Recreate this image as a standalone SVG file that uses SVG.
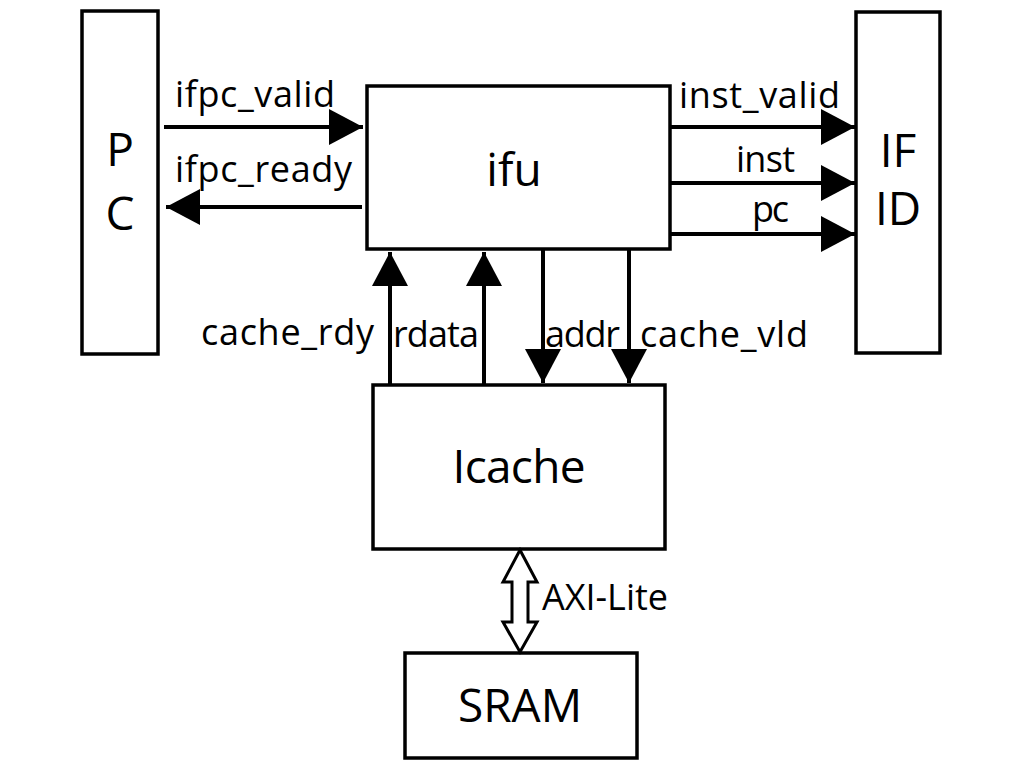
<svg xmlns="http://www.w3.org/2000/svg" width="1016" height="774" viewBox="0 0 1016 774">
<defs>
<marker id="ah" viewBox="0 0 34 36" refX="34" refY="18" markerWidth="34" markerHeight="36" markerUnits="userSpaceOnUse" orient="auto">
<path d="M0,0 L34,18 L0,36 Z" fill="#000"/>
</marker>
<style>
.box{fill:#fff;stroke:#000;stroke-width:3.5}
.c{fill:none;stroke:#000;stroke-width:4;marker-end:url(#ah)}
.s{font-family:"Open Sans","Noto Sans",sans-serif;font-size:36px;fill:#000}
.b{font-family:"Open Sans","Noto Sans",sans-serif;font-size:46px;fill:#000}
</style>
</defs>
<rect width="1016" height="774" fill="#fff"/>
<g id="pc"><rect class="box" x="82" y="11" width="76" height="343"/>
<text class="b" x="120" y="166" text-anchor="middle">P</text>
<text class="b" x="120" y="230" text-anchor="middle">C</text></g>
<g id="ifu"><rect class="box" x="367" y="86" width="303" height="163"/>
<text class="b" x="514" y="186" text-anchor="middle">ifu</text></g>
<g id="ifid"><rect class="box" x="856" y="12" width="84" height="341"/>
<text class="b" x="898" y="167" text-anchor="middle">IF</text>
<text class="b" x="898" y="225" text-anchor="middle">ID</text></g>
<g id="icache"><rect class="box" x="373" y="385" width="292" height="164"/>
<text class="b" x="519" y="483" text-anchor="middle" textLength="133">Icache</text></g>
<g id="sram"><rect class="box" x="405" y="653" width="232" height="105"/>
<text class="b" x="520" y="722" text-anchor="middle" textLength="124">SRAM</text></g>
<g id="connectors">
<path class="c" d="M164,127 H363"/>
<path class="c" d="M362,207 H166"/>
<path class="c" d="M670,127 H855"/>
<path class="c" d="M670,183 H855"/>
<path class="c" d="M670,234 H855"/>
<path class="c" d="M390,385 V252"/>
<path class="c" d="M484,385 V252"/>
<path class="c" d="M543,249 V383"/>
<path class="c" d="M629,249 V383"/>
<path d="M520,550 L537,582 L528,582 L528,622 L537,622 L520,652 L503,622 L512,622 L512,582 L503,582 Z" fill="#fff" stroke="#000" stroke-width="3"/>
</g>
<g id="labels">
<text class="s" x="175" y="107" textLength="160">ifpc_valid</text>
<text class="s" x="175" y="182" textLength="177">ifpc_ready</text>
<text class="s" x="679" y="108" textLength="161">inst_valid</text>
<text class="s" x="736" y="172" textLength="59">inst</text>
<text class="s" x="752" y="222" textLength="37">pc</text>
<text class="s" x="201" y="345" textLength="173">cache_rdy</text>
<text class="s" x="393" y="347" textLength="86">rdata</text>
<text class="s" x="545" y="347" textLength="75">addr</text>
<text class="s" x="640" y="347" textLength="168">cache_vld</text>
<text class="s" x="542" y="610" textLength="126">AXI-Lite</text>
</g>
</svg>
